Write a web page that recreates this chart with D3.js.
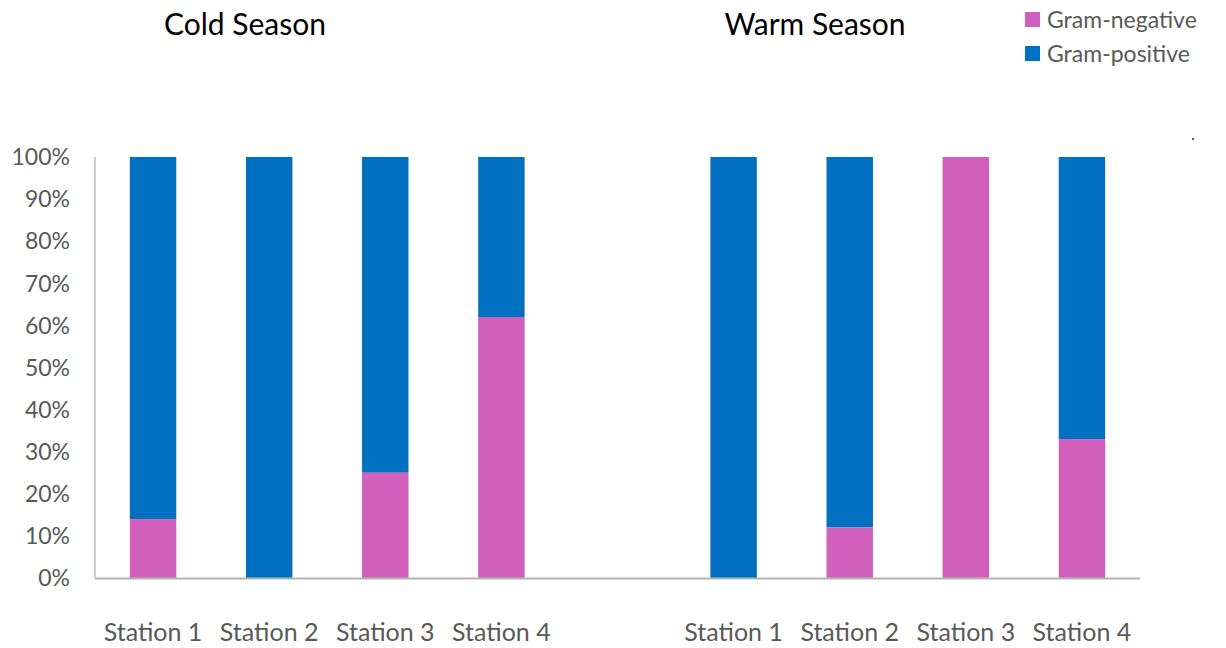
<!DOCTYPE html>
<html lang="en">
  <head>
    <meta charset="UTF-8" />
    <title>Gram-negative vs Gram-positive by season</title>
    <style>
      body { margin: 0; background: #fff; }
      text { font-family: Lato, 'Open Sans', sans-serif; }
    </style>
  </head>
  <body>
    <div id="chart"></div>
    <script src="https://d3js.org/d3.v7.min.js"></script>
    <script>
      const seasons = ['Cold Season', 'Warm Season'];
      const stations = ['Station 1', 'Station 2', 'Station 3', 'Station 4'];
      // percent Gram-negative per station, per season
      const coldNegative = [14, 0, 25, 62];
      const warmNegative = [0, 12, 100, 33];
      const seriesNames = ['Gram-negative', 'Gram-positive'];
      const seriesColors = ['#D160BC', '#0070C0'];
      const yTicks = [0, 10, 20, 30, 40, 50, 60, 70, 80, 90, 100];

      const W = 1226, H = 648;
      const margin = { top: 157, right: 86, bottom: 70, left: 95 };
      const width = W - margin.left - margin.right;
      const height = H - margin.top - margin.bottom;

      // rows: one per bar, with a gap slot between the seasons
      const rows = [];
      coldNegative.forEach((v, i) => rows.push({ key: 'c' + i, season: 0, station: stations[i], neg: v }));
      rows.push({ key: 'gap', season: -1, station: '', neg: null });
      warmNegative.forEach((v, i) => rows.push({ key: 'w' + i, season: 1, station: stations[i], neg: v }));

      const svg = d3.select('#chart').append('svg').attr('width', W).attr('height', H);
      const g = svg.append('g').attr('transform', `translate(${margin.left},${margin.top})`);

      const x = d3.scaleBand().domain(rows.map(d => d.key)).range([0, width]).paddingInner(0.6).paddingOuter(0.3);
      const y = d3.scaleLinear().domain([0, 100]).range([height, 0]);

      // y tick labels
      g.selectAll('.ytick').data(yTicks).enter().append('text')
        .attr('x', -25).attr('y', d => y(d)).attr('dy', '0.36em')
        .attr('text-anchor', 'end').attr('fill', '#595959').style('font-size', '23px')
        .text(d => d + '%');

      const bars = rows.filter(d => d.neg !== null);

      // Gram-positive (top part)
      g.selectAll('.pos').data(bars).enter().append('rect')
        .attr('x', d => x(d.key)).attr('width', x.bandwidth())
        .attr('y', y(100)).attr('height', d => y(d.neg) - y(100))
        .attr('fill', seriesColors[1]);

      // Gram-negative (bottom part)
      g.selectAll('.neg').data(bars).enter().append('rect')
        .attr('x', d => x(d.key)).attr('width', x.bandwidth())
        .attr('y', d => y(d.neg)).attr('height', d => y(0) - y(d.neg))
        .attr('fill', seriesColors[0]);

      // axes lines
      g.append('line').attr('x1', 0).attr('x2', 0).attr('y1', 0).attr('y2', height)
        .attr('stroke', '#bfbfbf').attr('stroke-width', 1.5);
      g.append('line').attr('x1', 0).attr('x2', width).attr('y1', height + 0.5).attr('y2', height + 0.5)
        .attr('stroke', '#b3b3b3').attr('stroke-width', 2);

      // station labels
      g.selectAll('.xlab').data(bars).enter().append('text')
        .attr('x', d => x(d.key) + x.bandwidth() / 2).attr('y', height + 63)
        .attr('text-anchor', 'middle').attr('fill', '#595959').style('font-size', '25px')
        .text(d => d.station);

      // season titles (sit left of their bar groups)
      const seasonX = [245, 815];
      seasons.forEach((s, i) => {
        svg.append('text')
          .attr('x', seasonX[i]).attr('y', 35)
          .attr('text-anchor', 'middle').attr('fill', '#000').style('font-size', '30px')
          .text(s);
      });

      // legend
      const legend = svg.append('g').attr('transform', 'translate(1025,12)');
      const li = legend.selectAll('g').data(seriesNames).enter().append('g')
        .attr('transform', (d, i) => `translate(0,${i * 34})`);
      li.append('rect').attr('width', 15).attr('height', 15)
        .attr('fill', (d, i) => seriesColors[i]);
      li.append('text').attr('x', 22).attr('y', 8).attr('dy', '0.36em')
        .attr('fill', '#595959').style('font-size', '23px').text(d => d);

      // small stray mark at right
      svg.append('rect').attr('x', 1192).attr('y', 138).attr('width', 2).attr('height', 2).attr('fill', '#595959');
    </script>
  </body>
</html>
